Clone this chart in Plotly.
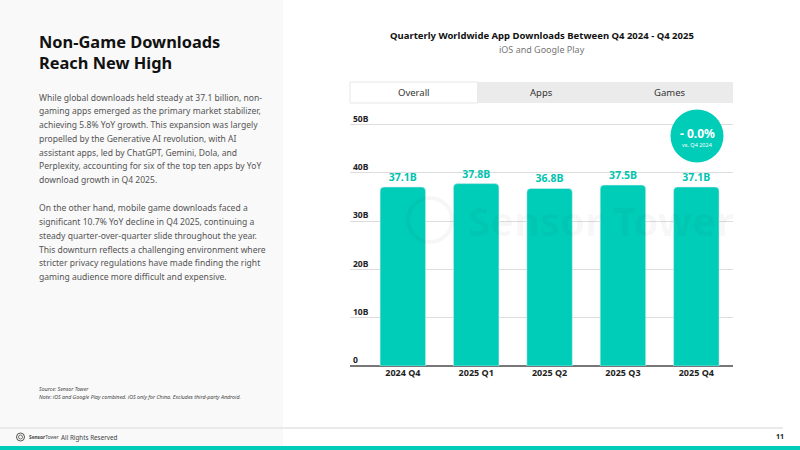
import plotly.graph_objects as go

# ---------------- data ----------------
quarters = ["2024 Q4", "2025 Q1", "2025 Q2", "2025 Q3", "2025 Q4"]
downloads_b = [37.1, 37.8, 36.8, 37.5, 37.1]
value_labels = ["37.1B", "37.8B", "36.8B", "37.5B", "37.1B"]
ytick_vals = [0, 10, 20, 30, 40, 50]
ytick_text = ["0", "10B", "20B", "30B", "40B", "50B"]
tabs = ["Overall", "Apps", "Games"]
yoy_change = "- 0.0%"
yoy_note = "vs. Q4 2024"

headline = ["Non-Game Downloads", "Reach New High"]
para1 = [
    "While global downloads held steady at 37.1 billion, non-",
    "gaming apps emerged as the primary market stabilizer,",
    "achieving 5.8% YoY growth. This expansion was largely",
    "propelled by the Generative AI revolution, with AI",
    "assistant apps, led by ChatGPT, Gemini, Dola, and",
    "Perplexity, accounting for six of the top ten apps by YoY",
    "download growth in Q4 2025.",
]
para2 = [
    "On the other hand, mobile game downloads faced a",
    "significant 10.7% YoY decline in Q4 2025, continuing a",
    "steady quarter-over-quarter slide throughout the year.",
    "This downturn reflects a challenging environment where",
    "stricter privacy regulations have made finding the right",
    "gaming audience more difficult and expensive.",
]
source_lines = [
    "Source: Sensor Tower",
    "Note: iOS and Google Play combined. iOS only for China. Excludes third-party Android.",
]

W, H = 800, 450
TEAL = "#00CDB8"
FONT = "Noto Sans"


def px(x):
    return x / W


def py(y):
    return 1 - y / H


def bold(s):
    return "<b>" + s + "</b>"


# y scale: 0 at 366px, 10 units = 48.25px; axis extended a little above 50
Y_ZERO_PX = 366
PX_PER_UNIT = 4.825
Y_TOP = 53
y_top_px = Y_ZERO_PX - Y_TOP * PX_PER_UNIT
PLOT_X0, PLOT_X1 = 350, 733

fig = go.Figure()
fig.add_trace(go.Bar(
    x=quarters, y=downloads_b, text=[bold(t) for t in value_labels], textposition="outside",
    textfont=dict(family=FONT, size=10.5, color="#00C4AF"),
    marker=dict(color=TEAL, cornerradius=4),
    width=0.62, cliponaxis=False,
))

shapes = []
annotations = []

# left panel background
shapes.append(dict(type="rect", xref="paper", yref="paper", x0=0, x1=px(283), y0=py(446), y1=1,
                   fillcolor="#F9F9F9", line=dict(width=0)))
# footer line & teal strip
shapes.append(dict(type="line", xref="paper", yref="paper", x0=0, x1=px(783), y0=py(428), y1=py(428),
                   line=dict(color="#E3E3E3", width=1.5)))
shapes.append(dict(type="rect", xref="paper", yref="paper", x0=0, x1=1, y0=0, y1=py(446),
                   fillcolor=TEAL, line=dict(width=0)))

# tabs
tab_x0, tab_x1, tab_y0, tab_y1 = 350, 733, 82, 103
tw = (tab_x1 - tab_x0) / len(tabs)
shapes.append(dict(type="rect", xref="paper", yref="paper", x0=px(tab_x0 + tw), x1=px(tab_x1),
                   y0=py(tab_y1), y1=py(tab_y0), fillcolor="#EBEBEB", line=dict(width=0)))
shapes.append(dict(type="rect", xref="paper", yref="paper", x0=px(tab_x0), x1=px(tab_x0 + tw),
                   y0=py(tab_y1), y1=py(tab_y0), fillcolor="#FFFFFF", line=dict(color="#E6E6E6", width=1)))
for i, t in enumerate(tabs):
    annotations.append(dict(text=t, xref="paper", yref="paper", x=px(tab_x0 + tw * (i + 0.5)),
                            y=py(92.5), xanchor="center", yanchor="middle", showarrow=False,
                            font=dict(family=FONT, size=9.5, color="#333333")))

# badge
cx, cy, r = 697, 136, 26.5
shapes.append(dict(type="circle", xref="paper", yref="paper", x0=px(cx - r), x1=px(cx + r),
                   y0=py(cy + r), y1=py(cy - r), fillcolor=TEAL, line=dict(width=0)))
annotations.append(dict(text=bold(yoy_change), xref="paper", yref="paper", x=px(cx), y=py(133),
                        xanchor="center", yanchor="middle", showarrow=False,
                        font=dict(family=FONT, size=12, color="white")))
annotations.append(dict(text=yoy_note, xref="paper", yref="paper", x=px(cx), y=py(145),
                        xanchor="center", yanchor="middle", showarrow=False,
                        font=dict(family=FONT, size=5.5, color="white")))

# watermark
shapes.append(dict(type="circle", xref="paper", yref="paper", x0=px(408), x1=px(452),
                   y0=py(242), y1=py(198), fillcolor="rgba(0,0,0,0)",
                   line=dict(color="rgba(0,0,0,0.035)", width=4)))
annotations.append(dict(text=bold("Sensor Tower"), xref="paper", yref="paper", x=px(466), y=py(220),
                        xanchor="left", yanchor="middle", showarrow=False,
                        font=dict(family=FONT, size=40, color="rgba(0,0,0,0.035)")))

# chart title
annotations.append(dict(text=bold("Quarterly Worldwide App Downloads Between Q4 2024 - Q4 2025"),
                        xref="paper", yref="paper", x=px(542), y=py(36), xanchor="center",
                        yanchor="middle", showarrow=False,
                        font=dict(family=FONT, size=9.5, color="#111111")))
annotations.append(dict(text="iOS and Google Play", xref="paper", yref="paper", x=px(542), y=py(49.5),
                        xanchor="center", yanchor="middle", showarrow=False,
                        font=dict(family=FONT, size=9, color="#777777")))

# headline
for i, line in enumerate(headline):
    annotations.append(dict(text=bold(line), xref="paper", yref="paper", x=px(37), y=py(41 + 21 * i),
                            xanchor="left", yanchor="middle", showarrow=False,
                            font=dict(family=FONT, size=16.4, color="#111111")))

# paragraphs
for i, line in enumerate(para1):
    annotations.append(dict(text=line, xref="paper", yref="paper", x=px(37), y=py(97.7 + 13.75 * i),
                            xanchor="left", yanchor="middle", showarrow=False,
                            font=dict(family=FONT, size=8.55, color="#555555")))
for i, line in enumerate(para2):
    annotations.append(dict(text=line, xref="paper", yref="paper", x=px(37), y=py(208.3 + 13.75 * i),
                            xanchor="left", yanchor="middle", showarrow=False,
                            font=dict(family=FONT, size=8.55, color="#555555")))

# source / note
for i, line in enumerate(source_lines):
    annotations.append(dict(text="<i>" + line + "</i>", xref="paper", yref="paper", x=px(37),
                            y=py(388.5 + 8 * i), xanchor="left", yanchor="middle", showarrow=False,
                            font=dict(family=FONT, size=5.3, color="#444444")))

# footer
shapes.append(dict(type="circle", xref="paper", yref="paper", x0=px(16.5), x1=px(24.5),
                   y0=py(441), y1=py(433), fillcolor="rgba(0,0,0,0)", line=dict(color="#555555", width=1)))
shapes.append(dict(type="circle", xref="paper", yref="paper", x0=px(18.5), x1=px(22.5),
                   y0=py(439), y1=py(435), fillcolor="rgba(0,0,0,0)", line=dict(color="#555555", width=0.8)))
annotations.append(dict(text="<b>Sensor</b>Tower", xref="paper", yref="paper", x=px(26.5), y=py(437),
                        xanchor="left", yanchor="middle", showarrow=False,
                        font=dict(family=FONT, size=4.8, color="#444444")))
annotations.append(dict(text="All Rights Reserved", xref="paper", yref="paper", x=px(58.5), y=py(437),
                        xanchor="left", yanchor="middle", showarrow=False,
                        font=dict(family=FONT, size=6.3, color="#444444")))
annotations.append(dict(text=bold("11"), xref="paper", yref="paper", x=px(786), y=py(436),
                        xanchor="right", yanchor="middle", showarrow=False,
                        font=dict(family=FONT, size=7, color="#222222")))

fig.update_layout(
    width=W, height=H, margin=dict(l=0, r=0, t=0, b=0),
    paper_bgcolor="white", plot_bgcolor="white",
    showlegend=False, shapes=shapes, annotations=annotations,
    xaxis=dict(domain=[px(PLOT_X0), px(PLOT_X1)], range=[-0.72, 4.5], showgrid=False,
               tickvals=quarters, ticktext=[bold(q) for q in quarters],
               showline=False, zeroline=False, ticks="",
               tickfont=dict(family=FONT, size=9, color="#222222")),
    yaxis=dict(domain=[py(Y_ZERO_PX), py(y_top_px)], range=[0, Y_TOP], tickvals=ytick_vals,
               ticktext=[bold(t) for t in ytick_text], ticklabelposition="inside top", showgrid=True,
               gridcolor="#DDDDDD", gridwidth=1, zeroline=True, zerolinecolor="#777777",
               zerolinewidth=1.5, showline=False, ticks="",
               tickfont=dict(family=FONT, size=8.5, color="#222222")),
)

fig.write_html("out.html")
